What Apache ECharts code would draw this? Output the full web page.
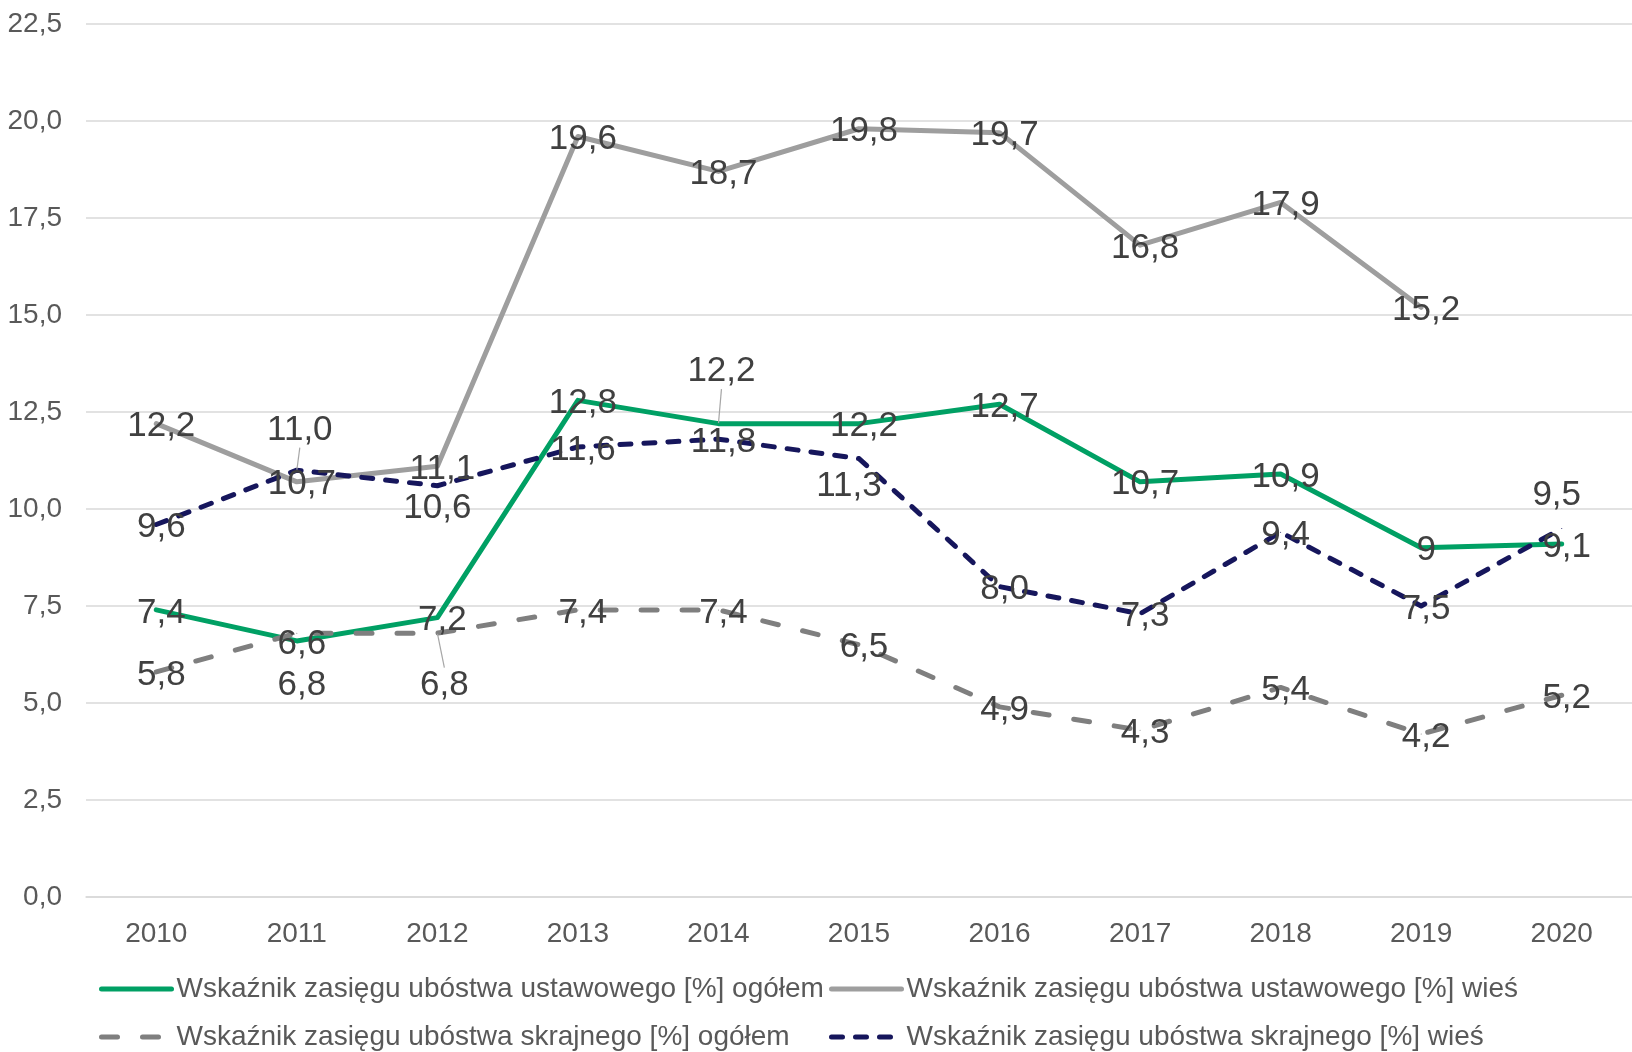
<!DOCTYPE html>
<html><head><meta charset="utf-8">
<script src="https://cdn.jsdelivr.net/npm/echarts@6/dist/echarts.min.js"></script>
<style>html,body{margin:0;padding:0;background:#fff}#c{width:1632px;height:1052px}</style>
</head><body><div id="c"></div>
<script>
const years = ['2010','2011','2012','2013','2014','2015','2016','2017','2018','2019','2020'];
const yTicks = { min: 0, max: 22.5, interval: 2.5 };

const nameUstOgolem = 'Wskaźnik zasięgu ubóstwa ustawowego [%] ogółem';
const nameUstWies = 'Wskaźnik zasięgu ubóstwa ustawowego [%] wieś';
const nameSkrOgolem = 'Wskaźnik zasięgu ubóstwa skrajnego [%] ogółem';
const nameSkrWies = 'Wskaźnik zasięgu ubóstwa skrajnego [%] wieś';

const ustOgolem = [7.4, 6.6, 7.2, 12.8, 12.2, 12.2, 12.7, 10.7, 10.9, 9, 9.1];
const ustWies   = [12.2, 10.7, 11.1, 19.6, 18.7, 19.8, 19.7, 16.8, 17.9, 15.2, null];
const skrOgolem = [5.8, 6.8, 6.8, 7.4, 7.4, 6.5, 4.9, 4.3, 5.4, 4.2, 5.2];
const skrWies   = [9.6, 11.0, 10.6, 11.6, 11.8, 11.3, 8.0, 7.3, 9.4, 7.5, 9.5];

const ustOgolemLabels = ['7,4','6,6','7,2','12,8','12,2','12,2','12,7','10,7','10,9','9','9,1'];
const ustWiesLabels   = ['12,2','10,7','11,1','19,6','18,7','19,8','19,7','16,8','17,9','15,2',''];
const skrOgolemLabels = ['5,8','6,8','6,8','7,4','7,4','6,5','4,9','4,3','5,4','4,2','5,2'];
const skrWiesLabels   = ['9,6','11,0','10,6','11,6','11,8','11,3','8,0','7,3','9,4','7,5','9,5'];

// label placement tweaks (series index -> data index -> [dx, dy, leader])
const labelShift = {
  0: {4: [3, -52, true]},
  2: {1: [5, 52, false], 2: [7, 52, true]},
  3: {1: [3, -40, true], 2: [0, 23, false], 5: [-10, 28, false], 10: [-5, -33, false]}
};
const defShift = [5, 3];

function mkData(vals, sIdx) {
  return vals.map((v, i) => {
    const s = labelShift[sIdx] && labelShift[sIdx][i];
    const o = { value: v };
    if (s && s[2]) o.labelLine = { show: true };
    return o;
  });
}

const labelsBySeries = [ustOgolemLabels, ustWiesLabels, skrOgolemLabels, skrWiesLabels];

function mkSeries(name, vals, sIdx, color, type) {
  return {
    name: name, type: 'line', symbol: 'circle', symbolSize: 1, showSymbol: true,
    data: mkData(vals, sIdx),
    connectNulls: false,
    lineStyle: { color: color, width: 5, type: type, cap: 'round', join: 'round' },
    itemStyle: { color: color },
    label: {
      show: true, position: 'inside', fontFamily: 'Liberation Sans, Arial, sans-serif',
      fontSize: 35, color: '#404040',
      formatter: p => labelsBySeries[sIdx][p.dataIndex]
    },
    labelLine: { show: false, lineStyle: { color: '#a6a6a6', width: 1.2 } },
    labelLayout: function (params) {
      const s = labelShift[sIdx] && labelShift[sIdx][params.dataIndex];
      const d = s || defShift;
      return { dx: d[0], dy: d[1] };
    },
    emphasis: { disabled: true },
    animation: false
  };
}

const legendBase = {
  orient: 'vertical', top: 974,
  itemWidth: 70, itemHeight: 14, itemGap: 18, padding: 0,
  itemStyle: { opacity: 0 },
  lineStyle: { width: 5 },
  textStyle: { color: '#595959', fontSize: 28, lineHeight: 30 }
};

const chart = echarts.init(document.getElementById('c'), null, { renderer: 'canvas' });
chart.setOption({
  animation: false,
  textStyle: { fontFamily: 'Liberation Sans, Arial, sans-serif' },
  grid: { left: 86, right: 0, top: 24, bottom: 155, containLabel: false },
  xAxis: {
    type: 'category', data: years, boundaryGap: true,
    axisLine: { show: true, lineStyle: { color: '#d9d9d9', width: 1.5 } },
    axisTick: { show: false },
    axisLabel: { color: '#595959', fontSize: 28, margin: 23 }
  },
  yAxis: {
    type: 'value', min: yTicks.min, max: yTicks.max, interval: yTicks.interval,
    axisLine: { show: false }, axisTick: { show: false },
    splitLine: { lineStyle: { color: '#d9d9d9', width: 1.5 } },
    axisLabel: { color: '#595959', fontSize: 28, margin: 24,
      formatter: v => v.toFixed(1).replace('.', ',') }
  },
  legend: [
    Object.assign({ data: [nameUstOgolem, nameSkrOgolem], left: 99 }, legendBase),
    Object.assign({ data: [nameUstWies, nameSkrWies], left: 829 }, legendBase)
  ],
  series: [
    mkSeries(nameUstOgolem, ustOgolem, 0, '#00A064', 'solid'),
    mkSeries(nameUstWies, ustWies, 1, '#9E9E9E', 'solid'),
    mkSeries(nameSkrOgolem, skrOgolem, 2, '#7F7F7F', [16, 25]),
    mkSeries(nameSkrWies, skrWies, 3, '#16165C', [11, 13])
  ]
});
</script></body></html>
